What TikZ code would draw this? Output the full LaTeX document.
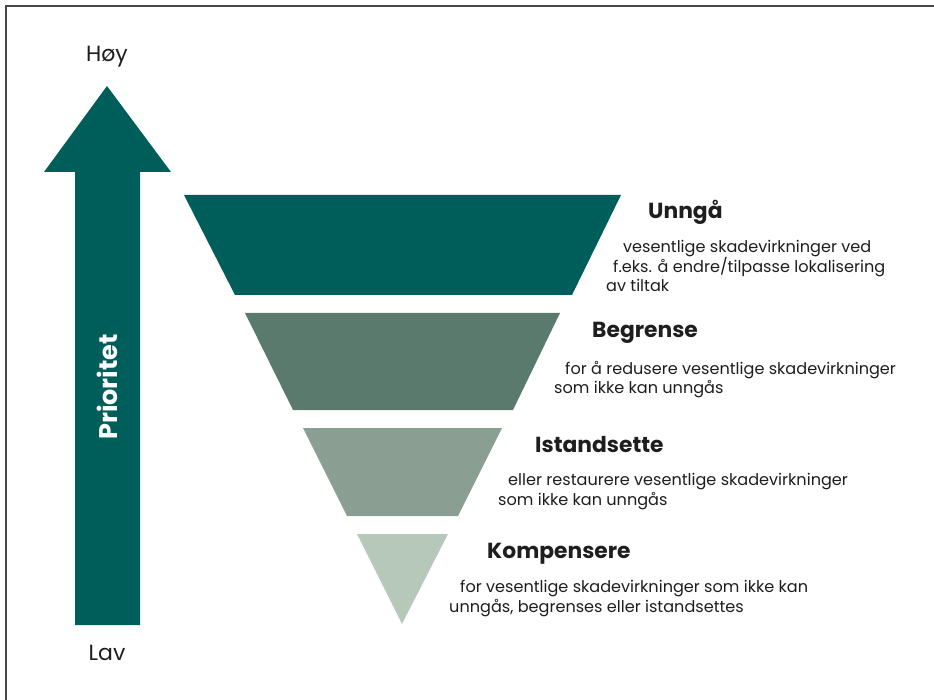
\documentclass[tikz,border=0pt]{standalone}
\usepackage{fontspec}
\setmainfont{Poppins}
\usepackage{tikz}

\definecolor{tealA}{RGB}{0,94,90}
\definecolor{tealB}{RGB}{90,122,110}
\definecolor{tealC}{RGB}{138,159,146}
\definecolor{tealD}{RGB}{181,200,186}
\definecolor{inkgray}{RGB}{30,30,30}

\begin{document}
\begin{tikzpicture}[x=1pt,y=-1pt]
\tikzset{heading/.style={anchor=base west,inner sep=0pt,text=inkgray,font=\fontsize{21.8}{26}\selectfont\bfseries},
    desc/.style={anchor=base west,inner sep=0pt,text=inkgray,font=\fontsize{16.1}{19}\selectfont},
    level/.style={anchor=center,inner sep=0pt,text=inkgray,font=\fontsize{22}{26}\selectfont}}

\useasboundingbox (0,0) rectangle (934,700);
\draw[line width=2.2pt,draw=black!72] (6,712) -- (6,6) -- (946,6);

\fill[tealA] (107,86) -- (171,172) -- (140,172) -- (140,625) -- (75,625) -- (75,172) -- (44,172) -- cycle;
\node[rotate=90,text=white,inner sep=0pt,font=\fontsize{25.5}{30}\selectfont\bfseries] (prio) at (107,387) {Prioritet};
\node[level] (hoy) at (107,57) {Høy};
\node[level] (lav) at (107,653) {Lav};

\fill[tealA] (184,195) -- (621,195) -- (572,295) -- (235,295) -- cycle;
\fill[tealB] (245,313) -- (560,313) -- (513,410) -- (293,410) -- cycle;
\fill[tealC] (303,428) -- (502,428) -- (458,516) -- (347,516) -- cycle;
\fill[tealD] (357,534) -- (448,534) -- (402,624) -- cycle;

\node[heading] (unnga) at (648,219) {Unngå};
\node[desc] (unnga1) at (623,253) {vesentlige skadevirkninger ved};
\node[desc] (unnga2) at (613,273) {f.eks. å endre/tilpasse lokalisering};
\node[desc] (unnga3) at (606,292) {av tiltak};

\node[heading] (begr) at (592,338) {Begrense};
\node[desc] (begr1) at (565,374) {for å redusere vesentlige skadevirkninger};
\node[desc] (begr2) at (554,393) {som ikke kan unngås};

\node[heading] (istand) at (535,452) {Istandsette};
\node[desc] (istand1) at (508,485) {eller restaurere vesentlige skadevirkninger};
\node[desc] (istand2) at (498,505) {som ikke kan unngås};

\node[heading] (komp) at (487,558) {Kompensere};
\node[desc] (komp1) at (460,592) {for vesentlige skadevirkninger som ikke kan};
\node[desc] (komp2) at (449,612) {unngås, begrenses eller istandsettes};

\end{tikzpicture}
\end{document}
